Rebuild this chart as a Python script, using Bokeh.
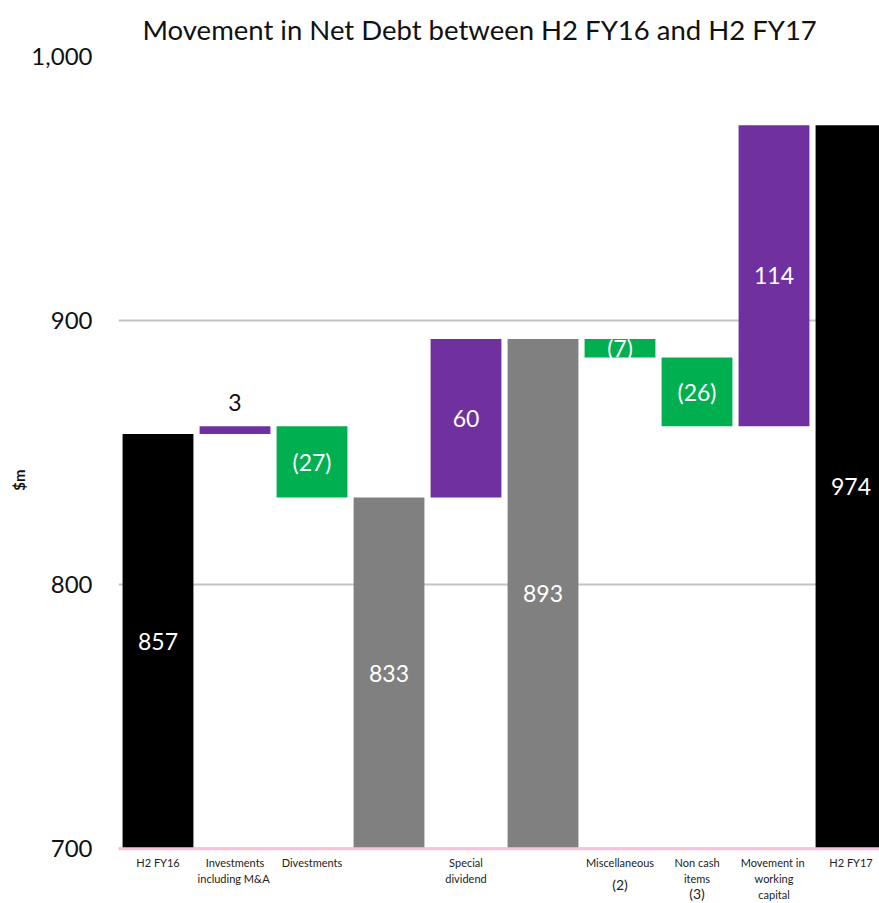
from bokeh.plotting import figure
from bokeh.models import Range1d, FixedTicker, NumeralTickFormatter, ColumnDataSource, Span
from bokeh.core.properties import value
from bokeh.embed import file_html
from bokeh.resources import INLINE

# ---- data ----
categories = ["H2 FY16", "Investments\nincluding  M&A", "Divestments", "", "Special\ndividend", "",
              "Miscellaneous\n(2)", "Non cash\nitems\n(3)", "Movement  in\nworking\ncapital", "H2 FY17"]
footnotes = ["(2)", "(3)"]
amounts = [857, 3, -27, 833, 60, 893, -7, -26, 114, 974]
kinds = ["total", "up", "down", "subtotal", "up", "subtotal", "down", "down", "up", "total"]
y_ticks = [700, 800, 900, 1000]
title_text = "Movement in Net Debt between H2 FY16 and H2 FY17"
y_label = "$m"

colors = {"total": "#000000", "subtotal": "#808080", "up": "#7030A0", "down": "#00B050"}
Y_MIN, Y_MAX = 700, 1000
PLOT_H = 795          # pixels between 700 and 1000
LABEL_AREA = 55       # pixels below the 700 line for category names
PX = (Y_MAX - Y_MIN) / PLOT_H  # data units per pixel

xs, bottoms, tops, fills, labels, label_y = [], [], [], [], [], []
running = 0
for i, (a, k) in enumerate(zip(amounts, kinds)):
    xs.append(i)
    if k in ("total", "subtotal"):
        b, t = Y_MIN, a
        running = a
    else:
        b, t = running, running + a
        running = running + a
    lo, hi = min(b, t), max(b, t)
    bottoms.append(lo)
    tops.append(hi)
    fills.append(colors[k])
    labels.append(f"({abs(a)})" if a < 0 else str(a))
    label_y.append((lo + hi) / 2)

src = ColumnDataSource(dict(x=xs, bottom=bottoms, top=tops, color=fills))

p = figure(width=879, height=903, output_backend="svg", toolbar_location=None,
           x_range=Range1d(-0.513, 9.37), y_range=Range1d(Y_MIN - LABEL_AREA * PX, Y_MAX),
           min_border_left=118, min_border_right=0, min_border_top=53, min_border_bottom=0,
           title=title_text)
p.outline_line_color = None
p.title.text_font = "Lato"
p.title.text_font_size = "27.5px"
p.title.text_font_style = "normal"
p.title.text_color = "#111111"
p.title.align = "left"
p.title.offset = 24
p.title.standoff = 21

p.vbar(x="x", width=0.92, bottom="bottom", top="top", fill_color="color", line_color=None, source=src)

# baseline (pink) at 700
p.add_layout(Span(location=Y_MIN, dimension="width", line_color="#F6C3DA", line_width=3))

# value labels: inside bars (white), tiny bar label above (black)
in_idx = [i for i in range(len(amounts)) if (tops[i] - bottoms[i]) > 5]
out_idx = [i for i in range(len(amounts)) if (tops[i] - bottoms[i]) <= 5]
p.text(x=[xs[i] for i in in_idx], y=[label_y[i] for i in in_idx], text=[labels[i] for i in in_idx],
       text_color="white", text_font=value("Lato"), text_font_size="23px",
       text_align="center", text_baseline="middle")
p.text(x=[xs[i] for i in out_idx], y=[tops[i] for i in out_idx], text=[labels[i] for i in out_idx],
       text_color="#111111", text_font=value("Lato"), text_font_size="23px",
       text_align="center", text_baseline="bottom", y_offset=-15)

# category labels under the baseline
cx, cy, ct, cs = [], [], [], []
for i, cat in enumerate(categories):
    for j, line in enumerate(cat.split("\n")):
        if line in footnotes:
            off = 36 if j == 1 else 44.5
        else:
            off = 13.5 + 16 * j
        cx.append(i)
        cy.append(Y_MIN - off * PX)
        ct.append(line)
        cs.append("14px" if line in footnotes else "11px")
p.text(x=cx, y=cy, text=ct, text_font_size=cs, text_color="#222222", text_font=value("Lato"),
       text_align="center", text_baseline="middle")

# axes
p.yaxis.ticker = FixedTicker(ticks=y_ticks)
p.yaxis.formatter = NumeralTickFormatter(format="0,0")
p.yaxis.major_label_text_font = "Lato"
p.yaxis.major_label_text_font_size = "24px"
p.yaxis.major_label_text_color = "#111111"
p.yaxis.major_label_standoff = 20
p.yaxis.axis_line_color = None
p.yaxis.major_tick_line_color = None
p.yaxis.minor_tick_line_color = None
p.yaxis.axis_label = y_label
p.yaxis.axis_label_text_font = "Lato"
p.yaxis.axis_label_text_font_style = "bold"
p.yaxis.axis_label_text_font_size = "15px"
p.yaxis.axis_label_text_color = "#111111"
p.yaxis.axis_label_standoff = 0

p.xaxis.visible = False
p.xgrid.grid_line_color = None
p.ygrid.grid_line_color = "#C4C4C4"
p.ygrid.grid_line_width = 2

open("out.html", "w").write(file_html(p, INLINE))
